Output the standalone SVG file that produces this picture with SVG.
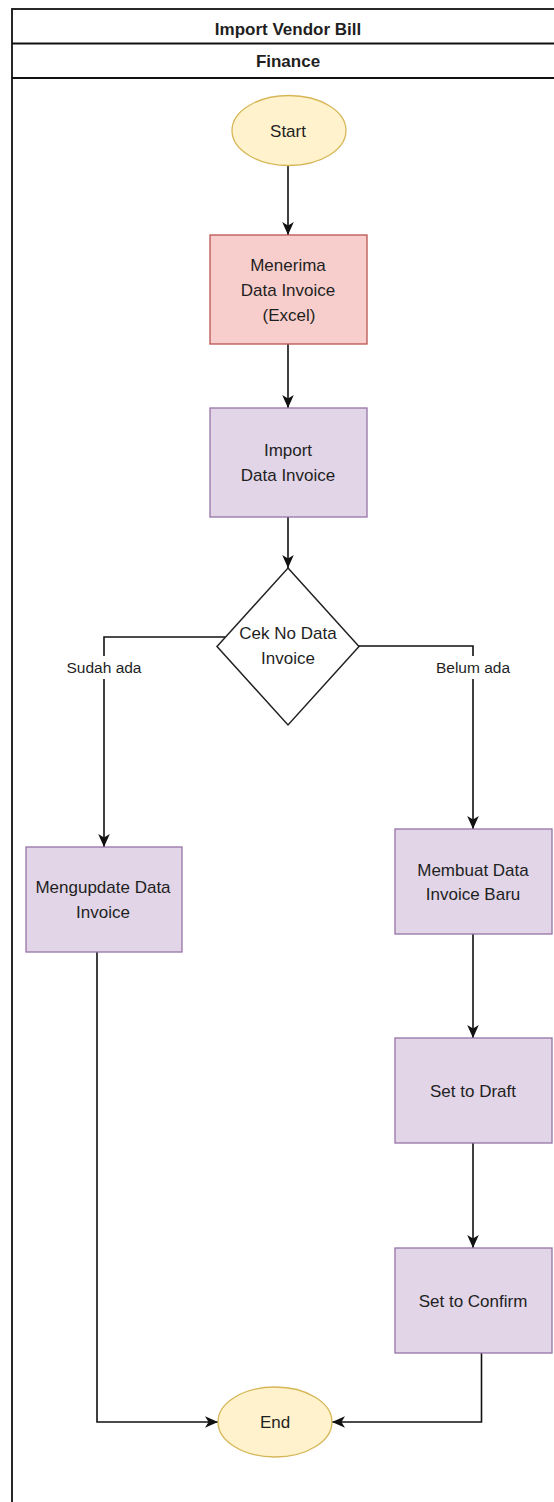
<svg xmlns="http://www.w3.org/2000/svg" width="554" height="1502" viewBox="0 0 554 1502">
  <style>
    text { font-family: "Liberation Sans", Arial, sans-serif; font-size: 17px; fill: #1f1f1f; text-anchor: middle; }
    .hdr { font-weight: bold; }
    .lbl { font-size: 15.5px; }
    .frame { fill: none; stroke: #111; stroke-width: 1.8; }
    .term { fill: #fff2cc; stroke: #d6b656; stroke-width: 1.3; }
    .task { fill: #e1d5e7; stroke: #9673a6; stroke-width: 1.3; }
    .input { fill: #f8cecc; stroke: #b85450; stroke-width: 1.3; }
    .dec { fill: #ffffff; stroke: #222; stroke-width: 1.5; }
    .edge { fill: none; stroke: #111; stroke-width: 1.6; marker-end: url(#arrow); }
  </style>
  <defs>
    <marker id="arrow" markerUnits="userSpaceOnUse" viewBox="-14 -7 15 14" refX="0" refY="0" markerWidth="15" markerHeight="14" orient="auto">
      <path d="M0,0 L-13,-5.8 L-9.5,0 L-13,5.8 Z" fill="#111"/>
    </marker>
  </defs>

  <rect width="554" height="1502" fill="#ffffff"/>

  <!-- pool with title and lane header -->
  <g id="pool">
    <rect class="frame" x="12" y="9" width="560" height="1510"/>
    <line class="frame" x1="12" y1="43.5" x2="560" y2="43.5"/>
    <line class="frame" x1="12" y1="78" x2="560" y2="78"/>
    <text class="hdr" x="288" y="35">Import Vendor Bill</text>
    <text class="hdr" x="288" y="67">Finance</text>
  </g>

  <!-- connectors -->
  <g id="connectors">
    <path class="edge" d="M288,165 L288,235"/>
    <path class="edge" d="M288,344 L288,408"/>
    <path class="edge" d="M288,517 L288,568"/>
    <path class="edge" d="M225.6,637 L104,637 L104,847"/>
    <path class="edge" d="M359,646 L473,646 L473,829"/>
    <path class="edge" d="M473,934 L473,1038"/>
    <path class="edge" d="M473,1143 L473,1248"/>
    <path class="edge" d="M97,952 L97,1422 L218,1422"/>
    <path class="edge" d="M481.5,1353 L481.5,1422 L332,1422"/>
    <g id="edge-labels">
      <rect x="64" y="656" width="80" height="23" fill="#ffffff"/>
      <text class="lbl" x="104" y="673">Sudah ada</text>
      <rect x="433" y="656" width="80" height="23" fill="#ffffff"/>
      <text class="lbl" x="473" y="673">Belum ada</text>
    </g>
  </g>

  <g id="start">
    <ellipse class="term" cx="289" cy="130.5" rx="57" ry="35"/>
    <text x="288" y="137">Start</text>
  </g>

  <g id="receive-invoice">
    <rect class="input" x="210" y="235" width="157" height="109"/>
    <text x="288" y="271">Menerima</text>
    <text x="288" y="296">Data Invoice</text>
    <text x="289" y="321">(Excel)</text>
  </g>

  <g id="import-invoice">
    <rect class="task" x="210" y="408" width="157" height="109"/>
    <text x="288" y="456">Import</text>
    <text x="288" y="481">Data Invoice</text>
  </g>

  <g id="check-invoice">
    <polygon class="dec" points="288,568 359,646.5 288,725 217,646.5"/>
    <text x="288" y="639">Cek No Data</text>
    <text x="288" y="664">Invoice</text>
  </g>

  <g id="update-invoice">
    <rect class="task" x="26" y="847" width="156" height="105"/>
    <text x="103" y="893">Mengupdate Data</text>
    <text x="103" y="918">Invoice</text>
  </g>

  <g id="create-invoice">
    <rect class="task" x="395" y="829" width="157" height="105"/>
    <text x="473" y="876">Membuat Data</text>
    <text x="473" y="900">Invoice Baru</text>
  </g>

  <g id="set-draft">
    <rect class="task" x="395" y="1038" width="157" height="105"/>
    <text x="473" y="1097">Set to Draft</text>
  </g>

  <g id="set-confirm">
    <rect class="task" x="395" y="1248" width="157" height="105"/>
    <text x="473" y="1307">Set to Confirm</text>
  </g>

  <g id="end">
    <ellipse class="term" cx="275" cy="1422" rx="57" ry="35"/>
    <text x="275" y="1428">End</text>
  </g>
</svg>
